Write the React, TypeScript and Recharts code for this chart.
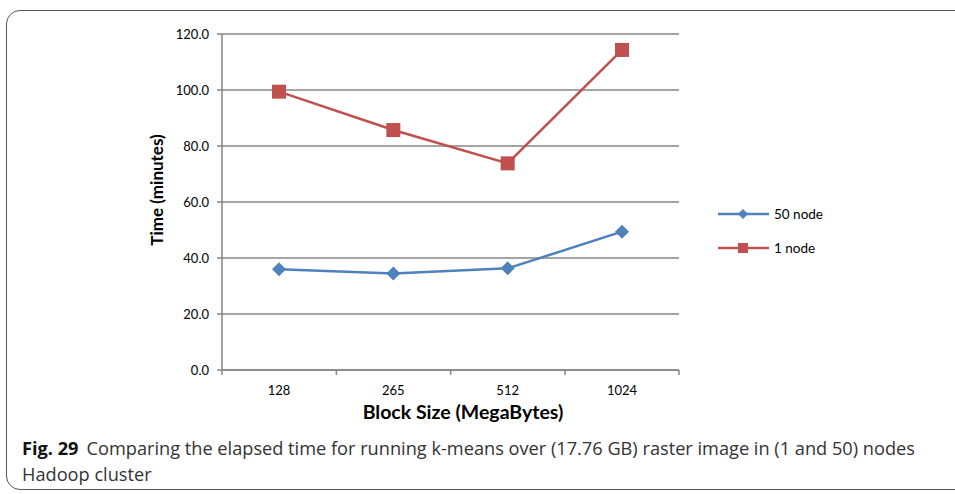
import React from "react"
import { LineChart, Line, XAxis, YAxis, CartesianGrid, Legend, Label } from "recharts"

const blockSizes = ["128", "265", "512", "1024"]
const node50 = [36.0, 34.5, 36.3, 49.4]
const node1 = [99.4, 85.7, 73.8, 114.3]
const yTicks = [0, 20, 40, 60, 80, 100, 120]

const BLUE = "#4F81BD"
const RED = "#C0504D"
const GRID = "#868686"
const FONT = "Lato, 'Open Sans', sans-serif"
const HALF_BAND = 57

const data = blockSizes.map((b, i) => ({ size: b, n50: node50[i], n1: node1[i] }))

const Diamond = ({ cx, cy, r = 7, fill }: any) => (
    <path d={`M${cx},${cy - r} L${cx + r},${cy} L${cx},${cy + r} L${cx - r},${cy} Z`} fill={fill} />
)

const Square = ({ cx, cy, s = 14, fill }: any) => (
    <rect x={cx - s / 2} y={cy - s / 2} width={s} height={s} fill={fill} />
)

// tick marks sit on the band edges, labels in the middle
const renderXTick = ({ x, y, payload, index }: any) => (
    <g key={`xt-${index}`}>
        <line x1={x - HALF_BAND} y1={y} x2={x - HALF_BAND} y2={y + 5} stroke={GRID} strokeWidth={1.5} />
        {index === blockSizes.length - 1 && (
            <line x1={x + HALF_BAND} y1={y} x2={x + HALF_BAND} y2={y + 5} stroke={GRID} strokeWidth={1.5} />
        )}
        <text x={x} y={y + 25} textAnchor="middle" fontSize={13} fontFamily={FONT} fill="#000">
            {payload.value}
        </text>
    </g>
)

const LegendBox = () => {
    const items = [
        { label: "50 node", color: BLUE, shape: "diamond" },
        { label: "1 node", color: RED, shape: "square" },
    ]
    return (
        <div>
            {items.map((it) => (
                <div key={it.label} style={{ display: "flex", alignItems: "center", height: 34 }}>
                    <svg width={56} height={16}>
                        <line x1={0} y1={8} x2={51} y2={8} stroke={it.color} strokeWidth={2.5} />
                        {it.shape === "diamond"
                            ? <Diamond cx={25} cy={8} r={5} fill={it.color} />
                            : <Square cx={25} cy={8} s={10} fill={it.color} />}
                    </svg>
                    <span style={{ fontFamily: FONT, fontSize: 13.5, color: "#000" }}>{it.label}</span>
                </div>
            ))}
        </div>
    )
}

export default function App() {
    return (
        <div style={{ position: "absolute", left: 0, top: 0, width: 955, height: 494, overflow: "hidden", background: "#fff" }}>
            <div
                style={{
                    position: "absolute",
                    left: 6,
                    top: 10,
                    width: 980,
                    height: 478,
                    border: "1.5px solid #555",
                    borderRadius: 14,
                }}
            />
            <div style={{ position: "absolute", left: 0, top: 0 }}>
                <LineChart
                    width={955}
                    height={440}
                    data={data}
                    margin={{ top: 34, right: 276, left: 0, bottom: 40 }}
                >
                    <CartesianGrid vertical={false} stroke={GRID} strokeWidth={1.5} />
                    <XAxis
                        dataKey="size"
                        padding={{ left: HALF_BAND, right: HALF_BAND }}
                        axisLine={{ stroke: GRID, strokeWidth: 1.5 }}
                        tickLine={false}
                        tickSize={0}
                        tickMargin={0}
                        tick={renderXTick}
                        height={30}
                        interval={0}
                    />
                    <YAxis
                        width={222}
                        domain={[0, 120]}
                        ticks={yTicks}
                        tickFormatter={(v: number) => v.toFixed(1)}
                        axisLine={{ stroke: GRID, strokeWidth: 1.5 }}
                        tickLine={{ stroke: GRID, strokeWidth: 1.5 }}
                        tickSize={5}
                        tickMargin={8}
                        tick={{ fontSize: 13, fontFamily: FONT, fill: "#000" }}
                    >
                        <Label
                            content={({ viewBox }: any) => (
                                <text
                                    x={0}
                                    y={0}
                                    transform={`translate(163, ${viewBox.y + viewBox.height / 2 - 12}) rotate(-90)`}
                                    textAnchor="middle"
                                    fontSize={17}
                                    fontWeight="bold"
                                    fontFamily={FONT}
                                    fill="#000"
                                >
                                    Time (minutes)
                                </text>
                            )}
                        />
                    </YAxis>
                    <Legend
                        layout="vertical"
                        align="center"
                        verticalAlign="middle"
                        content={<LegendBox />}
                        wrapperStyle={{ left: 718, top: 197, width: 140, right: "auto", bottom: "auto" }}
                    />
                    <Line
                        dataKey="n50"
                        name="50 node"
                        stroke={BLUE}
                        strokeWidth={2.5}
                        isAnimationActive={false}
                        dot={(p: any) => <Diamond key={`d-${p.index}`} cx={p.cx} cy={p.cy} fill={BLUE} />}
                        activeDot={false}
                    />
                    <Line
                        dataKey="n1"
                        name="1 node"
                        stroke={RED}
                        strokeWidth={2.5}
                        isAnimationActive={false}
                        dot={(p: any) => <Square key={`s-${p.index}`} cx={p.cx} cy={p.cy} fill={RED} />}
                        activeDot={false}
                    />
                    <text x={463} y={419} textAnchor="middle" fontSize={19.5} fontWeight="bold" fontFamily={FONT} fill="#000">
                        Block Size (MegaBytes)
                    </text>
                </LineChart>
            </div>
            <div
                style={{
                    position: "absolute",
                    left: 22,
                    top: 435,
                    width: 930,
                    fontFamily: "'Open Sans', 'Noto Sans', sans-serif",
                    fontSize: 18.2,
                    lineHeight: "26px",
                    color: "#333",
                    whiteSpace: "nowrap",
                }}
            >
                <span style={{ fontWeight: 700, color: "#111" }}>Fig. 29</span>
                <span style={{ marginLeft: 8 }}>
                    Comparing the elapsed time for running k-means over (17.76 GB) raster image in (1 and 50) nodes
                </span>
                <br />
                Hadoop cluster
            </div>
        </div>
    )
}
